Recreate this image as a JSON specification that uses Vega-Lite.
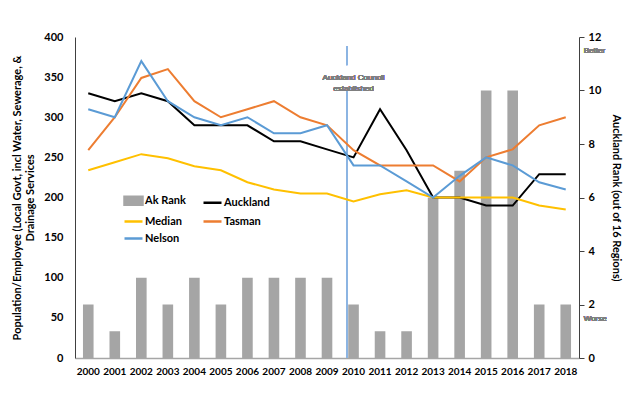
{
  "$schema": "https://vega.github.io/schema/vega-lite/v6.json",
  "width": 504,
  "height": 321,
  "autosize": {"type": "none"},
  "padding": {"left": 75, "top": 37, "right": 61, "bottom": 35},
  "background": "white",
  "config": {
    "font": "Lato",
    "view": {"stroke": null},
    "axis": {"grid": false, "labelFontWeight": "bold", "labelFontSize": 11, "labelColor": "#000000", "titleFontWeight": "bold", "titleFontSize": 11, "titleColor": "#000000"}
  },
  "data": {
    "values": [
      {"year": "2000", "rank": 2, "Auckland": 330, "Median": 234, "Tasman": 259, "Nelson": 310},
      {"year": "2001", "rank": 1, "Auckland": 320, "Median": 244, "Tasman": 300, "Nelson": 300},
      {"year": "2002", "rank": 3, "Auckland": 330, "Median": 254, "Tasman": 349, "Nelson": 370},
      {"year": "2003", "rank": 2, "Auckland": 320, "Median": 249, "Tasman": 360, "Nelson": 320},
      {"year": "2004", "rank": 3, "Auckland": 290, "Median": 239, "Tasman": 320, "Nelson": 300},
      {"year": "2005", "rank": 2, "Auckland": 290, "Median": 234, "Tasman": 300, "Nelson": 290},
      {"year": "2006", "rank": 3, "Auckland": 290, "Median": 219, "Tasman": 310, "Nelson": 300},
      {"year": "2007", "rank": 3, "Auckland": 270, "Median": 210, "Tasman": 320, "Nelson": 280},
      {"year": "2008", "rank": 3, "Auckland": 270, "Median": 205, "Tasman": 300, "Nelson": 280},
      {"year": "2009", "rank": 3, "Auckland": 260, "Median": 205, "Tasman": 290, "Nelson": 290},
      {"year": "2010", "rank": 2, "Auckland": 250, "Median": 195, "Tasman": 259, "Nelson": 240},
      {"year": "2011", "rank": 1, "Auckland": 310, "Median": 204, "Tasman": 240, "Nelson": 240},
      {"year": "2012", "rank": 1, "Auckland": 259, "Median": 209, "Tasman": 240, "Nelson": 220},
      {"year": "2013", "rank": 6, "Auckland": 200, "Median": 200, "Tasman": 240, "Nelson": 200},
      {"year": "2014", "rank": 7, "Auckland": 200, "Median": 200, "Tasman": 220, "Nelson": 227},
      {"year": "2015", "rank": 10, "Auckland": 190, "Median": 200, "Tasman": 250, "Nelson": 250},
      {"year": "2016", "rank": 10, "Auckland": 190, "Median": 200, "Tasman": 260, "Nelson": 240},
      {"year": "2017", "rank": 2, "Auckland": 229, "Median": 190, "Tasman": 290, "Nelson": 219},
      {"year": "2018", "rank": 2, "Auckland": 229, "Median": 185, "Tasman": 300, "Nelson": 210}
    ]
  },
  "encoding": {
    "x": {
      "field": "year", "type": "ordinal",
      "scale": {"paddingInner": 0, "paddingOuter": 0},
      "axis": {"title": null, "labelAngle": 0, "labelFontSize": 10, "ticks": false, "domainColor": "#A6A6A6", "domainWidth": 1.5, "labelPadding": 8}
    }
  },
  "layer": [
    {
      "layer": [
        {
          "mark": {"type": "bar", "width": {"band": 0.4}},
          "encoding": {
            "y": {
              "field": "rank", "type": "quantitative",
              "scale": {"domain": [0, 12]},
              "axis": {"orient": "right", "values": [0, 2, 4, 6, 8, 10, 12], "title": "Auckland Rank (out of 16 Regions)", "tickSize": 5, "tickColor": "#404040", "domainColor": "#404040", "labelPadding": 4, "titlePadding": 10}
            },
            "color": {
              "datum": "Ak Rank", "type": "nominal",
              "scale": {"domain": ["Ak Rank", "Auckland", "Median", "Tasman", "Nelson"], "range": ["#A5A5A5", "#000000", "#FFC000", "#ED7D31", "#5B9BD5"]},
              "legend": {
                "title": null, "orient": "none", "legendX": 48, "legendY": 153, "columns": 2, "direction": "horizontal", "columnPadding": 12, "rowPadding": 1,
                "labelFontSize": 11, "labelFontWeight": "bold", "labelColor": "#000000", "symbolSize": 324, "symbolStrokeWidth": 2.5, "labelOffset": 1,
                "encode": {"symbols": {"update": {
                  "shape": {"signal": "datum.value === 'Ak Rank' ? 'M-1,-0.45H1V0.45H-1Z' : 'stroke'"},
                  "fill": {"signal": "datum.value === 'Ak Rank' ? '#A5A5A5' : 'transparent'"},
                  "stroke": {"signal": "datum.value === 'Ak Rank' ? 'transparent' : scale('color', datum.value)"}
                }}}
              }
            }
          }
        },
        {
          "mark": {"type": "text", "align": "left", "baseline": "middle", "dx": 18, "fontSize": 8, "fontWeight": 300, "font": "Liberation Sans", "fill": "#7F7F7F", "strokeWidth": 0},
          "encoding": {
            "x": {"datum": "2018", "type": "ordinal"},
            "y": {"datum": 11.48, "type": "quantitative"},
            "text": {"value": "Better"}
          }
        },
        {
          "mark": {"type": "text", "align": "left", "baseline": "middle", "dx": 18, "fontSize": 8, "fontWeight": 300, "font": "Liberation Sans", "fill": "#7F7F7F", "strokeWidth": 0},
          "encoding": {
            "x": {"datum": "2018", "type": "ordinal"},
            "y": {"datum": 1.46, "type": "quantitative"},
            "text": {"value": "Worse"}
          }
        }
      ]
    },
    {
      "layer": [
        {
          "mark": {"type": "rule", "color": "#8DB4E2", "strokeWidth": 1},
          "encoding": {
            "x": {"datum": "2010", "type": "ordinal", "bandPosition": 0.25},
            "y": {"datum": 0, "type": "quantitative"},
            "y2": {"datum": 333}
          }
        },
        {
          "mark": {"type": "rule", "color": "#8DB4E2", "strokeWidth": 1},
          "encoding": {
            "x": {"datum": "2010", "type": "ordinal", "bandPosition": 0.25},
            "y": {"datum": 365, "type": "quantitative"},
            "y2": {"datum": 388}
          }
        },
        {
          "mark": {"type": "text", "align": "center", "baseline": "middle", "fontSize": 8, "fontWeight": 300, "font": "Liberation Sans", "fill": "#7F7F7F", "strokeWidth": 0, "lineHeight": 11},
          "encoding": {
            "x": {"datum": "2010", "type": "ordinal"},
            "y": {"datum": 349, "type": "quantitative"},
            "text": {"value": ["Auckland Council", "established"]}
          }
        },
        {
          "transform": [{"fold": ["Auckland", "Median", "Tasman", "Nelson"], "as": ["series", "value"]}],
          "mark": {"type": "line", "strokeWidth": 2},
          "encoding": {
            "y": {
              "field": "value", "type": "quantitative",
              "scale": {"domain": [0, 400]},
              "axis": {"orient": "left", "values": [0, 50, 100, 150, 200, 250, 300, 350, 400], "title": ["Population/Employee (Local Govt, incl Water, Sewerage, &", "Drainage Services"], "ticks": false, "domainColor": "#404040", "labelPadding": 12, "titlePadding": 8}
            },
            "color": {"field": "series", "type": "nominal", "legend": null}
          }
        }
      ]
    }
  ],
  "resolve": {"scale": {"y": "independent"}}
}
